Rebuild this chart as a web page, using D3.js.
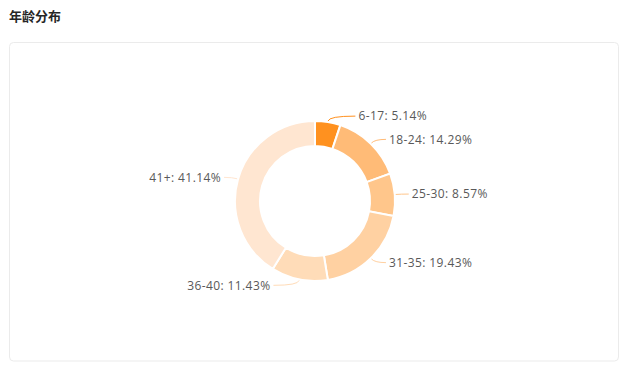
<!DOCTYPE html>
<html>
<head>
<meta charset="utf-8">
<script src="https://cdn.jsdelivr.net/npm/d3@7"></script>
<style>
  body { margin: 0; background: #fff; }
  svg { display: block; font-family: "Microsoft YaHei", "Noto Sans CJK SC", "Noto Sans", sans-serif; }
</style>
</head>
<body>
<script>
var categories = ["6-17", "18-24", "25-30", "31-35", "36-40", "41+"];
var percents = [5.14, 14.29, 8.57, 19.43, 11.43, 41.14];
var colors = ["#ff911f", "#ffbb77", "#ffc68b", "#ffd1a2", "#ffdcb8", "#ffe6d1"];

var width = 628, height = 369;
var cx = 315, cy = 201;
var outerR = 80, innerR = 55;

var svg = d3.select("body").append("svg")
    .attr("width", width)
    .attr("height", height);

// title
svg.append("text")
    .attr("x", 9)
    .attr("y", 21)
    .style("font-size", "13px")
    .style("font-weight", "bold")
    .style("fill", "#262626")
    .text("年龄分布");

// card
svg.append("rect")
    .attr("x", 9.5)
    .attr("y", 42.5)
    .attr("width", 609)
    .attr("height", 318.5)
    .attr("rx", 4)
    .style("fill", "#fff")
    .style("stroke", "#ebebeb");

var data = categories.map(function(c, i) { return {name: c, value: percents[i], color: colors[i]}; });

var pie = d3.pie()
    .sort(null)
    .value(function(d) { return d.value; });

var arc = d3.arc()
    .innerRadius(innerR)
    .outerRadius(outerR);

var g = svg.append("g")
    .attr("transform", "translate(" + cx + "," + cy + ")");

var arcs = pie(data);

g.selectAll(".slice")
    .data(arcs)
    .enter().append("path")
    .attr("class", "slice")
    .attr("d", arc)
    .style("fill", function(d) { return d.data.color; })
    .style("stroke", "#fff")
    .style("stroke-width", 2);

// labels: y from mid angle, x pushed onto a wider circle
var edgeR = 81, yR = 86, anchorR = 94;

arcs.forEach(function(d) {
    var a = (d.startAngle + d.endAngle) / 2;
    var sx = Math.sin(a), sy = -Math.cos(a);
    var right = sx >= 0;
    var ly = yR * sy;
    var lx = (right ? 1 : -1) * Math.sqrt(anchorR * anchorR - ly * ly);
    var x0 = edgeR * sx, y0 = edgeR * sy;
    var qx = yR * sx, qy = yR * sy;

    g.append("path")
        .attr("d", "M" + x0 + "," + y0 + "Q" + qx + "," + qy + " " + lx + "," + ly)
        .style("fill", "none")
        .style("stroke", d.data.color)
        .style("stroke-width", 1);

    g.append("text")
        .attr("x", lx + (right ? 3 : -3))
        .attr("y", ly)
        .attr("dy", "0.35em")
        .attr("text-anchor", right ? "start" : "end")
        .style("font-family", "'Open Sans', sans-serif")
        .style("font-size", "12px")
        .style("letter-spacing", "0.4px")
        .style("fill", "#595959")
        .text(d.data.name + ": " + d.data.value.toFixed(2) + "%");
});
</script>
</body>
</html>
